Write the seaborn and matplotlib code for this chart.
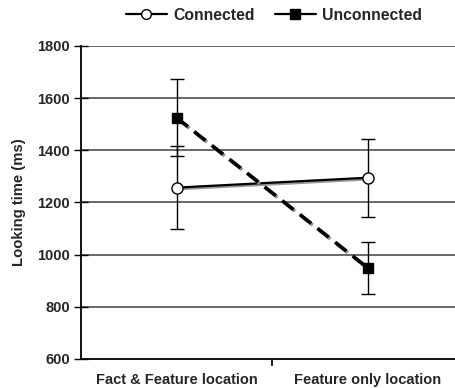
import numpy as np
import pandas as pd
import matplotlib
matplotlib.use('Agg')
import matplotlib.pyplot as plt
import matplotlib.patheffects as pe
from matplotlib.lines import Line2D
import seaborn as sns

conditions = ['Fact & Feature location', 'Feature only location']
groups = ['Connected', 'Unconnected']
connected_mean = [1257, 1295]
connected_err = [158, 150]
unconnected_mean = [1525, 950]
unconnected_err = [147, 100]

sns.set_style('white')
plt.rcParams['font.family'] = ['Liberation Sans', 'DejaVu Sans']
plt.rcParams['font.weight'] = 'bold'

df = pd.DataFrame({
    'x': [0, 1] * 2,
    'group': [groups[0]] * 2 + [groups[1]] * 2,
    'mean': connected_mean + unconnected_mean,
    'err': connected_err + unconnected_err,
})

fig = plt.figure(figsize=(4.56, 3.88), dpi=100)
ax = fig.add_axes([81 / 456, 1 - 359 / 388, 1 - 81 / 456, (359 - 46) / 388])

# grid lines
for v in range(800, 1801, 200):
    ax.axhline(v, color='#404040', lw=1.1, zorder=0)

shadow = [pe.SimpleLineShadow(offset=(1.2, -1.2), shadow_color='#999999', alpha=1), pe.Normal()]

for g in groups:
    sub = df[df['group'] == g]
    ax.errorbar(sub['x'], sub['mean'], yerr=sub['err'], fmt='none', ecolor='black',
                elinewidth=1, capsize=5, capthick=1, zorder=2)

sns.lineplot(data=df[df['group'] == 'Connected'], x='x', y='mean', ax=ax, color='black',
             linestyle='-', lw=1.6, zorder=3, path_effects=shadow, legend=False)
sns.lineplot(data=df[df['group'] == 'Unconnected'], x='x', y='mean', ax=ax, color='black',
             linestyle=(0, (4, 2.2)), lw=2.6, zorder=3, path_effects=shadow, legend=False)
for g, m, fc in [('Connected', 'o', 'white'), ('Unconnected', 's', 'black')]:
    sub = df[df['group'] == g]
    ax.plot(sub['x'], sub['mean'], ls='none', marker=m, ms=8 if m == 'o' else 7.5,
            mfc=fc, mec='black', mew=1, zorder=4)

ax.set_xlim(-0.5, 1.463)
ax.set_ylim(600, 1800)
ax.set_yticks(range(600, 1801, 200))
ax.set_yticklabels([str(v) for v in range(600, 1801, 200)], fontsize=10.5, fontweight='bold')
ax.set_xticks([0, 1])
ax.set_xticklabels(conditions, fontsize=10.5, fontweight='bold')
ax.tick_params(axis='x', which='major', length=0, pad=10)
ax.set_xticks([0.5], minor=True)
ax.tick_params(axis='x', which='minor', bottom=True, length=5, width=1.2,
               direction='out', color='black')
ax.tick_params(axis='y', left=True, length=10, width=1, direction='inout',
               color='black', pad=3)
ax.set_xlabel('')
ax.set_ylabel('Looking time (ms)', fontsize=10.7, fontweight='bold', labelpad=8)

for s in ['top', 'right']:
    ax.spines[s].set_visible(False)
for s in ['left', 'bottom']:
    ax.spines[s].set_color('black')
    ax.spines[s].set_linewidth(1.3)

handles = [Line2D([], [], color='black', lw=1.6, marker='o', mfc='white', mec='black', ms=7),
           Line2D([], [], color='black', lw=1.6, marker='s', mfc='black', mec='black', ms=7)]
fig.legend(handles, groups, loc='center', bbox_to_anchor=(0.601, 0.961), ncol=2, frameon=False,
           prop={'weight': 'bold', 'size': 11.3}, handlelength=2.6, columnspacing=1.3,
           handletextpad=0.4)

fig.savefig('out.png', dpi=100)
